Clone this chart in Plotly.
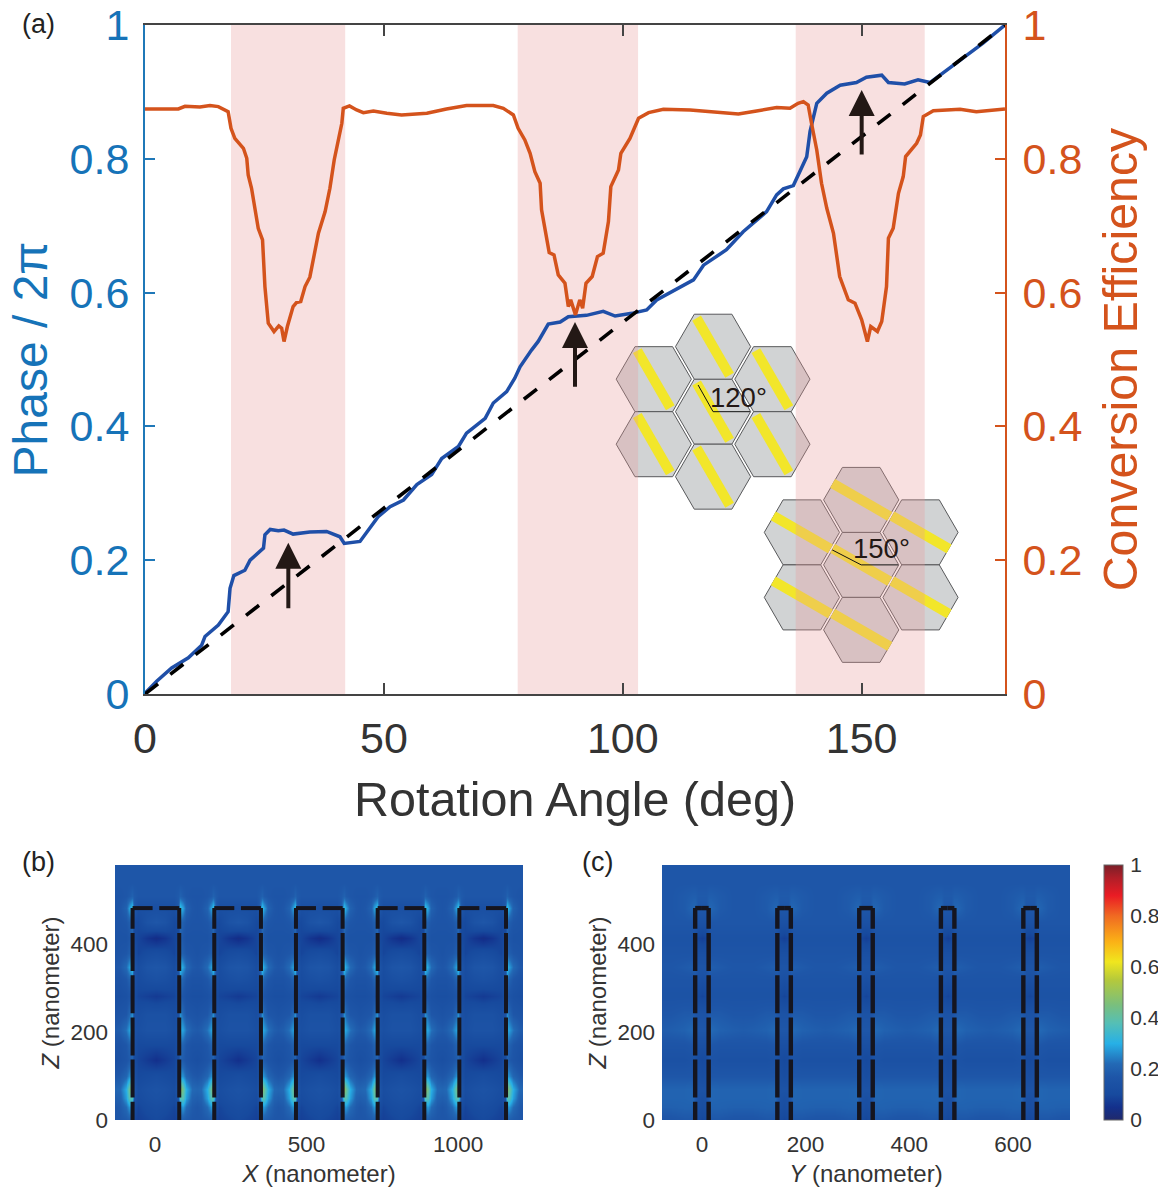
import plotly.graph_objects as go

W, H = 1158, 1189

# ---------- panel (a) data ----------
phase_angle = [0,2.44,5.58,7.33,9.07,11.86,12.56,15.35,17.4,17.8,18.6,20.9,22,24.8,25.1,26.2,27.9,29.1,31,34.5,38,40.8,41.7,45,
               46.8,48.8,51.3,54.1,56.9,60,62.1,65.6,67.3,71.2,72.9,75.7,77.4,78.5,80.9,82.3,84.4,86.9,88.6,92.4,95.9,98.4,101.9,105,
               107.1,114.8,116.9,121.7,125.2,130.1,132.2,133.6,135.7,138.5,139.2,140.6,142.7,145.5,148.9,151,154.2,155.6,159,161.8,164.3,
               167.8,171.6,175.4,180]
phase_value = [.001,.019,.039,.046,.054,.073,.086,.103,.123,.158,.177,.185,.200,.218,.238,.246,.244,.245,.239,.242,.243,.235,.225,.228,
               .245,.265,.280,.290,.313,.328,.352,.370,.390,.412,.435,.452,.472,.489,.514,.527,.553,.556,.564,.566,.572,.565,.569,.574,
               .589,.619,.641,.664,.691,.721,.746,.755,.760,.803,.841,.883,.898,.910,.914,.922,.925,.914,.912,.918,.914,
               .933,.952,.973,1.0]
eff_angle = [0,3.84,6.98,8.37,11.5,13.6,15.35,17.4,18,18.8,20.6,21.3,21.6,22.3,23,23.7,24.6,24.8,25.1,25.8,27,28,28.6,29.1,29.8,31,31.7,32.6,
             33.5,34.5,35.4,36.3,37.7,38.7,39.6,40.5,41.2,41.5,42.8,44.3,45.7,47.8,50.6,53.7,59,63.1,67.3,72.9,75,77.1,78.1,79.5,80.6,81.6,
             82.7,83,83.7,84.6,85.6,86.5,87.9,88.6,89.1,90.1,91,91.6,92.3,93.6,94.7,95.9,97,97.5,99.1,99.6,101.5,103.3,105.4,108.5,114.1,119,
             124.2,128,132.2,135,136.7,137.8,138.8,139.5,140.6,141.6,142.7,144.1,145.4,147.2,148.6,150,151.2,151.9,153.3,154.2,155.2,155.6,
             156.6,157.7,158.7,159.2,161.5,162.3,162.9,165,170.6,174,177.5,180]
eff_value = [.8745,.874,.8745,.8785,.8775,.8795,.878,.8705,.8456,.8306,.8157,.8008,.7759,.7559,.726,.6962,.6788,.6489,.609,.5542,.5418,.5503,.5468,.5269,.5493,.5792,.5851,.5866,
             .609,.623,.6564,.6887,.7211,.7559,.7983,.8331,.8531,.8755,.879,.873,.869,.8715,.868,.8655,.868,.8745,.8795,.8795,.8755,.8655,.8456,.8282,.8082,.7808,
             .7634,.7236,.6937,.6598,.6564,.6265,.614,.5791,.5891,.5667,.5891,.5767,.614,.624,.6539,.6588,.7062,.7584,.7833,.8082,.8306,.8605,.869,.874,.873,.8705,
             .867,.8715,.8765,.8755,.883,.8854,.8805,.8531,.8132,.7634,.726,.6887,.624,.5892,.5842,.5593,.5269,.5493,.5419,.5568,.6091,.6813,
             .6963,.7485,.7734,.8033,.8232,.8357,.8631,.872,.874,.8705,.873,.8745]
ideal_angle = [0, 180]
ideal_value = [0, 1]
band_start = [18.0, 78.0, 136.2]
band_end = [41.9, 103.2, 163.2]
arrow_angle = [30, 90, 150]
arrow_base = [.126, .457, .804]
arrow_tip = [.226, .556, .903]
inset_center_angle = [118.9, 149.9]
inset_center_value = [.422, .193]
inset_rotation = [120, 150]
inset_label = ["120°", "150°"]
x_ticks_a = [0, 50, 100, 150]
y_ticks_a = [0, .2, .4, .6, .8, 1]
y_tick_text_a = ["0", "0.2", "0.4", "0.6", "0.8", "1"]

# ---------- panels (b), (c) data: one repeated unit of the field map ----------
z_rows = [0,30,50,70,100,137,170,205,240,281,320,349,380,413,450,482,510,540,580]
b_offsets = [0,30,60,72,80,88,100,120,135]
b_unit = [
 [.10,.09,.08,.09,.20,.19,.18,.17,.17],
 [.12,.11,.09,.11,.26,.27,.22,.18,.17],
 [.14,.13,.11,.15,.38,.38,.28,.20,.19],
 [.15,.14,.12,.17,.50,.42,.30,.22,.21],
 [.12,.11,.10,.14,.28,.26,.21,.18,.17],
 [.05,.07,.09,.11,.20,.18,.16,.14,.13],
 [.10,.10,.10,.13,.22,.20,.17,.15,.15],
 [.15,.15,.13,.15,.30,.28,.23,.19,.18],
 [.14,.14,.12,.14,.26,.21,.17,.16,.15],
 [.07,.08,.09,.11,.19,.16,.14,.13,.13],
 [.14,.13,.11,.14,.24,.20,.17,.15,.15],
 [.17,.16,.12,.16,.33,.28,.22,.18,.17],
 [.12,.11,.09,.12,.22,.19,.17,.16,.15],
 [.04,.06,.09,.10,.20,.17,.15,.15,.15],
 [.17,.15,.10,.11,.22,.19,.17,.16,.16],
 [.13,.13,.13,.18,.33,.28,.20,.17,.16],
 [.17,.17,.17,.18,.20,.18,.17,.16,.16],
 [.17,.17,.17,.17,.17,.17,.17,.17,.17],
 [.17,.17,.17,.17,.17,.17,.17,.17,.17],
]
c_offsets = [0,7,13,18,35,60,79]
c_unit = [
 [.09,.10,.14,.17,.17,.16,.16],
 [.12,.13,.17,.20,.20,.195,.195],
 [.13,.14,.18,.21,.205,.205,.205],
 [.15,.15,.19,.21,.205,.205,.205],
 [.12,.13,.16,.17,.17,.17,.17],
 [.10,.11,.14,.15,.14,.14,.14],
 [.13,.13,.16,.17,.16,.16,.16],
 [.17,.17,.21,.22,.20,.19,.185],
 [.15,.15,.17,.18,.18,.17,.17],
 [.09,.10,.13,.15,.15,.15,.15],
 [.13,.14,.16,.16,.16,.16,.16],
 [.16,.16,.19,.19,.18,.17,.17],
 [.13,.13,.15,.16,.16,.16,.16],
 [.08,.09,.13,.15,.15,.15,.15],
 [.14,.14,.16,.17,.17,.17,.17],
 [.17,.17,.21,.21,.18,.17,.17],
 [.18,.18,.19,.19,.18,.17,.17],
 [.17,.17,.17,.17,.17,.17,.17],
 [.17,.17,.17,.17,.17,.17,.17],
]
b_pillars = [3, 272.5, 542, 811.5, 1081]
b_half_width = 77
c_pillars = [0, 158.5, 316.5, 474, 633]
c_half_width = 13
pillar_height = 482
cb_ticks = [0, .2, .4, .6, .8, 1]
cb_tick_text = ["0", "0.2", "0.4", "0.6", "0.8", "1"]
jet_stops = [(0,"#20296b"),(.05,"#13308c"),(.1,"#174a9e"),(.17,"#1e56a8"),(.22,"#2369b5"),(.3,"#27b0e6"),(.38,"#55bfb5"),
             (.45,"#79bf7e"),(.55,"#b5c93b"),(.62,"#f0e61e"),(.7,"#fbb116"),(.8,"#f06a22"),(.88,"#ea1c24"),(.95,"#b01e28"),(1,"#7a1f28")]

# ---------- styles ----------
FONT = "Liberation Sans, Arial, sans-serif"
BLUE_AXIS, BLUE_LINE, ORANGE = "#1f78b8", "#1f4fa8", "#d4531c"
DARK = "#333333"
PX_X, PX_Y = 180 / 860, 1 / 669  # data units per screen pixel in panel (a)

def tile(unit, offsets, centers):
    xs, rows = [], [[] for _ in unit]
    half = offsets[-1]
    for c in centers:
        for sign, seq in ((-1, list(range(len(offsets) - 1, 0, -1))), (1, list(range(len(offsets) - 1)))):
            for i in seq:
                xs.append(c + sign * offsets[i])
                for r, row in zip(rows, unit):
                    r.append(row[i])
    xs.append(centers[-1] + half)
    for r, row in zip(rows, unit):
        r.append(row[-1])
    return xs, rows

def pillar_paths(centers, half_width, top_gap):
    vx, vy, tx, ty = [], [], [], []
    for c in centers:
        for e in (c - half_width, c + half_width):
            vx += [e, e, None]
            vy += [-45, pillar_height, None]
        tx += [c - half_width, c - top_gap, None, c + top_gap, c + half_width, None]
        ty += [pillar_height, pillar_height, None, pillar_height, pillar_height, None]
    return vx, vy, tx, ty

fig = go.Figure()

# panel (a) traces
fig.add_trace(go.Scatter(x=phase_angle, y=phase_value, mode="lines", line=dict(color=BLUE_LINE, width=3.5), xaxis="x", yaxis="y", showlegend=False))
fig.add_trace(go.Scatter(x=ideal_angle, y=ideal_value, mode="lines", line=dict(color="#000000", width=3.6, dash="16.5px,15.5px"), xaxis="x", yaxis="y", showlegend=False))
fig.add_trace(go.Scatter(x=eff_angle, y=eff_value, mode="lines", line=dict(color=ORANGE, width=3.5), xaxis="x", yaxis="y2", showlegend=False))

# panels (b), (c) heatmaps
bx, bz = tile(b_unit, b_offsets, b_pillars)
cx, cz = tile(c_unit, c_offsets, c_pillars)
fig.add_trace(go.Heatmap(x=bx, y=z_rows, z=bz, zsmooth="best", coloraxis="coloraxis", xaxis="x2", yaxis="y3"))
fig.add_trace(go.Heatmap(x=cx, y=z_rows, z=cz, zsmooth="best", coloraxis="coloraxis", xaxis="x3", yaxis="y4"))
for centers, hw, gap, lw, xa, ya in ((b_pillars, b_half_width, 11, 4, "x2", "y3"), (c_pillars, c_half_width, 0, 4.4, "x3", "y4")):
    vx, vy, tx, ty = pillar_paths(centers, hw, gap)
    fig.add_trace(go.Scatter(x=vx, y=vy, mode="lines", line=dict(color="#15151f", width=lw, dash="38px,4.2px"), xaxis=xa, yaxis=ya, showlegend=False, connectgaps=False))
    fig.add_trace(go.Scatter(x=tx, y=ty, mode="lines", line=dict(color="#15151f", width=lw), xaxis=xa, yaxis=ya, showlegend=False, connectgaps=False))

# shapes: inset hexagons sit under the translucent bands
shapes, annotations = [], []
R, APO, DX = 37.6, 32.5, 59.3
neighbours = [(0, 0), (0, -2), (0, 2), (-1, -1), (-1, 1), (1, -1), (1, 1)]

def poly(points):
    return "M" + " L".join(f"{x:.4f},{y:.4f}" for x, y in points) + " Z"

for ca, cv, rot in zip(inset_center_angle, inset_center_value, inset_rotation):
    for i, j in neighbours:
        px, py = i * DX, j * APO
        verts = [(px + dx, py + dy) for dx, dy in ((-R, 0), (-R / 2, -APO), (R / 2, -APO), (R, 0), (R / 2, APO), (-R / 2, APO))]
        shapes.append(dict(type="path", layer="below", xref="x", yref="y", fillcolor="#d1d3d4", line=dict(color="#58595b", width=1),
                           path=poly([(ca + a * PX_X, cv - b * PX_Y) for a, b in verts])))
    for i, j in neighbours:
        px, py = i * DX, j * APO
        c, s = {120: (-.5, .866), 150: (-.866, .5)}[rot]
        L, T = 33, 5
        bar = [(px + sa * L * c + sb * T * s, py - sa * L * s + sb * T * c) for sa, sb in ((1, 1), (1, -1), (-1, -1), (-1, 1))]
        shapes.append(dict(type="path", layer="below", xref="x", yref="y", fillcolor="#f2e62a", line=dict(width=0),
                           path=poly([(ca + a * PX_X, cv - b * PX_Y) for a, b in bar])))
for s0, s1 in zip(band_start, band_end):
    shapes.append(dict(type="rect", layer="below", xref="x", yref="y", x0=s0, x1=s1, y0=0, y1=1,
                       fillcolor="rgba(232,152,152,0.30)", line=dict(width=0)))

# leaders and labels of the insets
leader_offset = {120: (-15, -26.7), 150: (-29, -15)}
label_offset = {120: (25, -14.5), 150: (20.7, -16)}
for ca, cv, rot, lab in zip(inset_center_angle, inset_center_value, inset_rotation, inset_label):
    lx, ly = leader_offset[rot]
    shapes.append(dict(type="path", layer="above", xref="x", yref="y", line=dict(color="#111111", width=1),
                       path=f"M{ca + lx * PX_X:.4f},{cv - ly * PX_Y:.4f} L{ca:.4f},{cv:.4f} L{ca + 37 * PX_X:.4f},{cv:.4f}"))
    tx, ty = label_offset[rot]
    annotations.append(dict(x=ca + tx * PX_X, y=cv - ty * PX_Y, xref="x", yref="y", text=lab, showarrow=False,
                            font=dict(family=FONT, size=27.5, color="#231815")))

for a, b0, t in zip(arrow_angle, arrow_base, arrow_tip):
    annotations.append(dict(x=a, y=t, ax=a, ay=b0, xref="x", yref="y", axref="x", ayref="y", text="", showarrow=True,
                            arrowhead=2, arrowsize=1.3, arrowwidth=4, arrowcolor="#231815", standoff=0))

for text, x, y in (("(a)", 38, 24), ("(b)", 38, 862), ("(c)", 597, 862)):
    annotations.append(dict(x=x / W, y=1 - y / H, xref="paper", yref="paper", text=text, showarrow=False, xanchor="center", yanchor="middle",
                            font=dict(family=FONT, size=27, color="#222222")))

def dom_x(a, b):
    return [a / W, b / W]

def dom_y(top, bottom):
    return [1 - bottom / H, 1 - top / H]

small_tick = dict(family=FONT, size=22.5, color=DARK)
small_title = dict(family=FONT, size=24, color=DARK)

fig.update_layout(
    width=W, height=H, autosize=False, margin=dict(l=0, r=0, t=0, b=0, autoexpand=False),
    paper_bgcolor="white", plot_bgcolor="white", showlegend=False,
    font=dict(family=FONT, color=DARK),
    shapes=shapes, annotations=annotations,
    coloraxis=dict(cmin=0, cmax=1, colorscale=[[a, b] for a, b in jet_stops],
                   colorbar=dict(x=1104 / W, xanchor="left", xpad=0, ypad=0, y=1 - 1120 / H, yanchor="bottom", len=255 / H, lenmode="fraction",
                                 thickness=19, thicknessmode="pixels", outlinecolor="#666666", outlinewidth=1,
                                 tickvals=cb_ticks, ticktext=cb_tick_text, ticks="outside", ticklen=3, tickcolor="rgba(0,0,0,0)",
                                 tickfont=dict(family=FONT, size=21, color=DARK))),
    xaxis=dict(domain=dom_x(145, 1005), range=[0, 180], anchor="y", tickvals=x_ticks_a, ticks="inside", ticklen=11, tickwidth=2,
               tickcolor="#444444", showline=True, linecolor="#444444", linewidth=2, mirror="ticks", showgrid=False, zeroline=False,
               tickfont=dict(family=FONT, size=43, color=DARK), ticklabelstandoff=5,
               title=dict(text="Rotation Angle (deg)", font=dict(family=FONT, size=48.5, color=DARK), standoff=21)),
    yaxis=dict(domain=dom_y(25, 694), range=[0, 1], anchor="x", side="left", tickvals=y_ticks_a, ticktext=y_tick_text_a, ticks="inside",
               ticklen=10, tickwidth=2, tickcolor=BLUE_AXIS, showline=True, linecolor=BLUE_AXIS, linewidth=2, showgrid=False, zeroline=False,
               tickfont=dict(family=FONT, size=43, color="#1673b8"), ticklabelstandoff=5,
               title=dict(text="Phase / 2π", font=dict(family=FONT, size=48, color="#1673b8"), standoff=7)),
    yaxis2=dict(domain=dom_y(25, 694), range=[0, 1], anchor="x", overlaying="y", side="right", tickvals=y_ticks_a, ticktext=y_tick_text_a, ticks="inside",
                ticklen=10, tickwidth=2, tickcolor=ORANGE, showline=True, linecolor=ORANGE, linewidth=2, showgrid=False, zeroline=False,
                tickfont=dict(family=FONT, size=43, color=ORANGE), ticklabelstandoff=7,
                title=dict(text="Conversion Efficiency", font=dict(family=FONT, size=48.3, color=ORANGE), standoff=22)),
    xaxis2=dict(domain=dom_x(115, 523), range=[-132, 1214], anchor="y3", tickvals=[0, 500, 1000], ticks="", showgrid=False, zeroline=False,
                tickfont=small_tick, ticklabelstandoff=8, title=dict(text="<i>X</i> (nanometer)", font=small_title, standoff=9)),
    yaxis3=dict(domain=dom_y(865, 1120), range=[0, 580], anchor="x2", tickvals=[0, 200, 400], ticks="", showgrid=False, zeroline=False,
                tickfont=small_tick, ticklabelstandoff=6, title=dict(text="<i>Z</i> (nanometer)", font=small_title, standoff=4)),
    xaxis3=dict(domain=dom_x(662, 1070), range=[-77, 710], anchor="y4", tickvals=[0, 200, 400, 600], ticks="", showgrid=False, zeroline=False,
                tickfont=small_tick, ticklabelstandoff=8, title=dict(text="<i>Y</i> (nanometer)", font=small_title, standoff=9)),
    yaxis4=dict(domain=dom_y(865, 1120), range=[0, 580], anchor="x3", tickvals=[0, 200, 400], ticks="", showgrid=False, zeroline=False,
                tickfont=small_tick, ticklabelstandoff=6, title=dict(text="<i>Z</i> (nanometer)", font=small_title, standoff=4)),
)
for ax in ("xaxis", "yaxis", "yaxis2", "xaxis2", "yaxis3", "xaxis3", "yaxis4"):
    fig.layout[ax].automargin = False

fig.write_html("out.html", config={"displayModeBar": False},
               post_script="document.body.style.margin='0';document.body.style.overflow='hidden';")
